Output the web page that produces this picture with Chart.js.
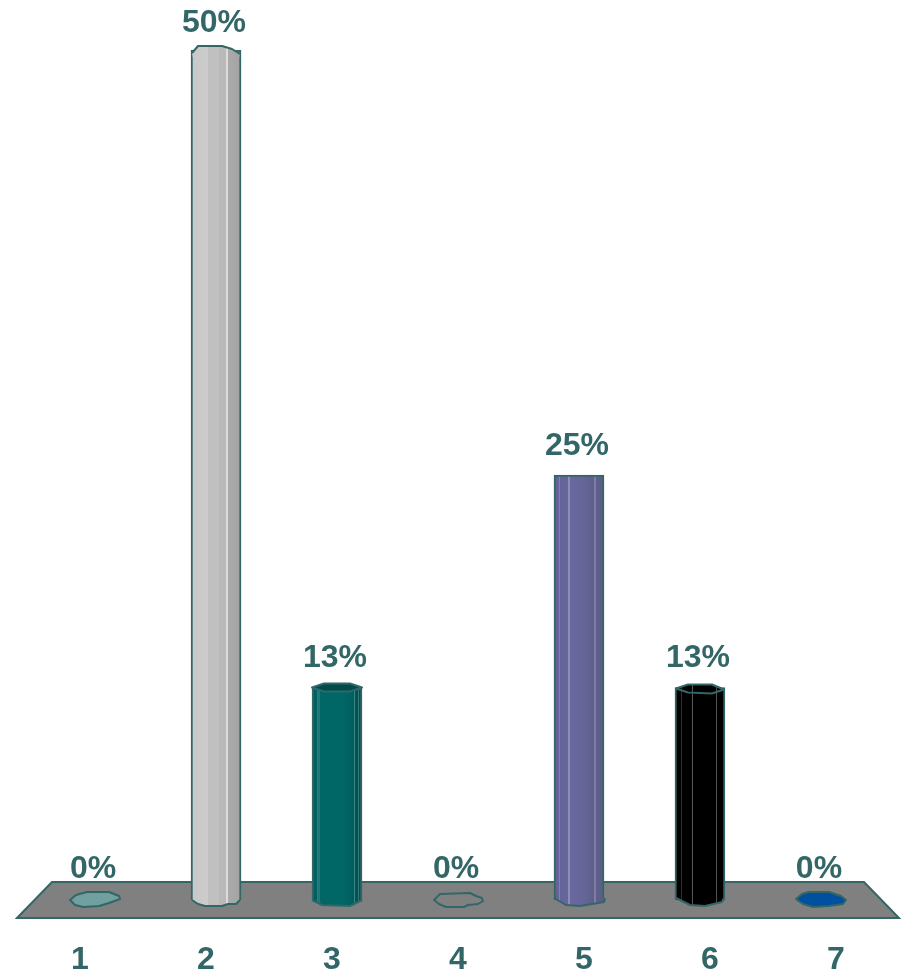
<!DOCTYPE html>
<html>
<head>
<meta charset="utf-8">
<title>Bar chart</title>
<script src="https://cdn.jsdelivr.net/npm/chart.js@4/dist/chart.umd.min.js"></script>
<style>
  html, body { margin: 0; background: #fff; }
  canvas { display: block; }
</style>
</head>
<body>
<canvas id="chart" width="904" height="972"></canvas>
<script>
const categories = ['1', '2', '3', '4', '5', '6', '7'];
const shares = [0, 50, 12.5, 0, 25, 12.5, 0];
const baseColors = ['#70a0a0', '#c0c0c0', '#006666', '#808080', '#666699', '#000000', '#0050a0'];

const INK = '#336666';
const FONT = 'bold 32px "Liberation Sans", Arial, sans-serif';

// vertical facets of each column, as [fraction across, colour]
const facets = {
  1: [[0, '#c8c8c8'], [0.34, '#cccccc'], [0.34, '#c0c0c0'], [0.56, '#c0c0c0'], [0.56, '#b9b9b9'], [0.7, '#b9b9b9'], [0.7, '#dcdcdc'], [0.73, '#dcdcdc'], [0.73, '#ababab'], [0.9, '#a6a6a6'], [1, '#a2a2a2']],
  2: [[0, '#005c5c'], [0.09, '#006060'], [0.1, '#4f9494'], [0.12, '#006464'], [0.14, '#3f8a8a'], [0.16, '#006666'], [0.62, '#006666'], [0.8, '#005f5f'], [0.84, '#005a5a'], [0.85, '#3b8585'], [0.87, '#005555'], [0.92, '#005050'], [0.93, '#3a7c7c'], [0.95, '#004f4f'], [1, '#004c4c']],
  4: [[0, '#62628f'], [0.09, '#64649a'], [0.1, '#a0a0c4'], [0.12, '#64649a'], [0.28, '#66669c'], [0.3, '#b4b4d0'], [0.32, '#68689e'], [0.55, '#666699'], [0.8, '#5f5f8c'], [0.82, '#9d9dba'], [0.84, '#5f5f8c'], [1, '#5c5c85']],
  5: [[0, '#000'], [0.12, '#000'], [0.135, '#444'], [0.15, '#000'], [0.33, '#000'], [0.345, '#888'], [0.36, '#000'], [0.82, '#000'], [0.835, '#777'], [0.85, '#000'], [1, '#000']],
};

// outline of the foot / top of a column, relative to the bar's centre and value pixel
const feet = {
  1: [[-24, 0], [-18, 4], [-11, 6], [6, 6], [12, 4], [20, 4], [24, 0]],
  2: [[-25, 0], [-15, 5], [13, 6], [25, 0]],
  4: [[-25, -2], [-13, 5], [1, 6], [25, 2], [26, -2]],
  5: [[-24, -2], [-10, 5], [5, 6], [22, 2], [24, -2]],
};
const tops = {
  2: [[-25, 0], [-13, -4], [13, -4], [25, 0], [13, 4], [-13, 4]],
  5: [[-24, 1], [-12, -3], [12, -3], [24, 2], [12, 6], [-12, 5]],
};
// the tall column has a domed top with no rim across it
const dome = [[-24, 3], [-18, -4], [6, -4], [16, -1], [24, 4]];
// puddle drawn where a column has no height
const puddles = {
  0: [[-25, 0], [-19, -5], [-8, -8], [14, -8], [24, -4], [25, -1], [14, 3], [4, 6], [-12, 7], [-20, 5]],
  3: [[-24, 0], [-18, -6], [12, -7], [18, -4], [24, -2], [25, 1], [20, 4], [10, 5], [6, 7], [-12, 7], [-19, 4]],
  6: [[-25, -1], [-19, -6], [-12, -8], [8, -8], [20, -4], [25, 0], [22, 4], [8, 6], [-8, 7], [-18, 4]],
};

function poly(ctx, x, y, pts) {
  ctx.beginPath();
  pts.forEach(([dx, dy], i) => (i ? ctx.lineTo(x + dx, y + dy) : ctx.moveTo(x + dx, y + dy)));
}

function barFill(c) {
  const i = c.dataIndex;
  if (i === undefined || !facets[i]) return baseColors[i] || '#808080';
  const x = c.chart.scales.x.getPixelForValue(i + 1);
  const g = c.chart.ctx.createLinearGradient(x - 25, 0, x + 25, 0);
  facets[i].forEach(([at, col]) => g.addColorStop(at, col));
  return g;
}

const floorPlugin = {
  id: 'floor',
  beforeDatasetsDraw(chart) {
    const { ctx, chartArea: a, scales: { y } } = chart;
    const y0 = y.getPixelForValue(0);
    ctx.save();
    poly(ctx, a.left, y0, [[0, 18], [35, -18], [a.right - a.left - 35, -18], [a.right - a.left, 18]]);
    ctx.closePath();
    ctx.fillStyle = '#808080';
    ctx.fill();
    ctx.strokeStyle = INK;
    ctx.lineWidth = 2;
    ctx.stroke();
    ctx.restore();
  },
  afterDatasetsDraw(chart) {
    const { ctx } = chart;
    const bars = chart.getDatasetMeta(0).data;
    ctx.save();
    ctx.lineJoin = 'round';
    ctx.strokeStyle = INK;
    ctx.lineWidth = 2;
    bars.forEach((bar, i) => {
      if (puddles[i]) {
        poly(ctx, bar.x, bar.y, puddles[i]);
        ctx.closePath();
        ctx.fillStyle = baseColors[i];
        ctx.fill();
        ctx.stroke();
        return;
      }
      poly(ctx, bar.x, bar.base, feet[i]);
      ctx.fillStyle = bar.options.backgroundColor;
      ctx.fill();
      ctx.stroke();
      if (i === 1) {
        poly(ctx, bar.x, bar.y, dome.concat([[23, 8], [-23, 8]]));
        ctx.closePath();
        ctx.fill();
        poly(ctx, bar.x, bar.y, dome);
        ctx.stroke();
      } else if (tops[i]) {
        poly(ctx, bar.x, bar.y, tops[i]);
        ctx.closePath();
        ctx.fillStyle = i === 2 ? '#004c4c' : bar.options.backgroundColor;
        ctx.fill();
        ctx.stroke();
      }
    });
    ctx.font = FONT;
    ctx.fillStyle = INK;
    ctx.textAlign = 'center';
    ctx.textBaseline = 'alphabetic';
    bars.forEach((bar, i) => {
      ctx.fillText(Math.round(shares[i]) + '%', bar.x - 2, bar.y - 22 + shares[i] * 0.08);
    });
    ctx.restore();
  },
};

new Chart(document.getElementById('chart'), {
  type: 'bar',
  data: {
    datasets: [{
      data: shares.map((v, i) => ({ x: i + 1, y: v })),
      backgroundColor: barFill,
      borderColor: INK,
      borderWidth: 2,
      borderSkipped: 'bottom',
      barThickness: 50,
    }],
  },
  plugins: [floorPlugin],
  options: {
    responsive: false,
    animation: false,
    layout: { padding: { left: 17, right: 5, top: 50, bottom: 0 } },
    plugins: { legend: { display: false }, tooltip: { enabled: false } },
    scales: {
      // columns sit closer together than the tick labels, so they get their own axis
      x: { type: 'linear', display: false, offset: false, min: 0.355, max: 7.645 },
      labels: {
        type: 'category',
        position: 'bottom',
        labels: categories,
        offset: true,
        grid: { display: false, drawTicks: false },
        border: { display: false },
        ticks: { color: INK, font: { family: '"Liberation Sans", Arial, sans-serif', size: 32, weight: 'bold' }, padding: 41, maxRotation: 0, autoSkip: false },
        afterFit(scale) { scale.height = 72; },
      },
      y: { display: false, min: 0, max: 50 },
    },
  },
});
</script>
</body>
</html>
